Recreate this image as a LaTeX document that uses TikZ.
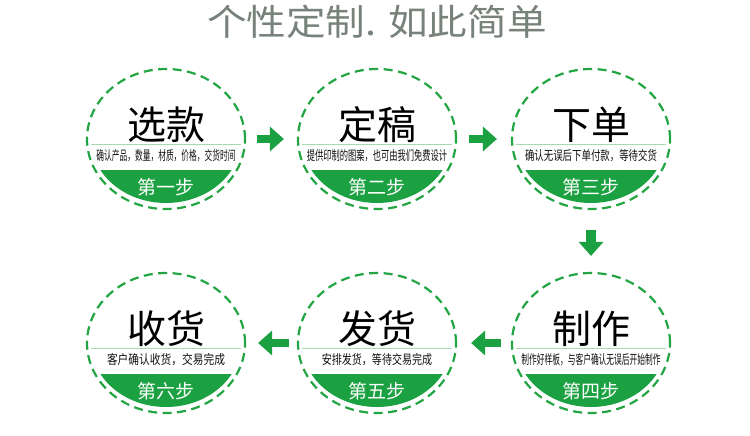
\documentclass[tikz,border=0pt]{standalone}
\usepackage{fontspec}
\setmainfont{Noto Sans CJK SC}
\usetikzlibrary{shapes.geometric,arrows.meta,calc}
\definecolor{stepgreen}{HTML}{1BA141}
\definecolor{dashgreen}{HTML}{22A542}
\definecolor{titlegray}{HTML}{76827A}
\definecolor{sepline}{HTML}{A6D9B0}
\definecolor{subgray}{HTML}{111111}
\tikzset{
  ring/.style={ellipse, draw=dashgreen, line width=2.2pt, dash pattern=on 9pt off 5.5pt,
    minimum width=158pt, minimum height=140pt, inner sep=0pt},
  maintext/.style={font=\fontsize{39}{42}\selectfont, text=black, inner sep=0pt},
  subtext/.style={font=\fontsize{13}{14}\selectfont, text=subgray, inner sep=0pt},
  steptext/.style={font=\fontsize{19}{21}\selectfont, text=white, inner sep=0pt},
  titletext/.style={font=\fontsize{36}{40}\selectfont, text=titlegray, inner sep=0pt},
  bigarrow/.style={draw=stepgreen, line width=8.5pt, -{Triangle[width=24pt,length=14pt]}},
}
\newcommand\stepcircle[7]{%
  \node[ring] (#1) at (#2,#3) {};
  \begin{scope}
    \clip (#1.center) ellipse [x radius=75pt, y radius=64pt];
    \fill[stepgreen] ($(#1.center)+(-80,31)$) rectangle ($(#1.center)+(80,70)$);
  \end{scope}
  \draw[sepline, line width=0.8pt] ($(#1.center)+(-75,5)$) -- ($(#1.center)+(75,5)$);
  \node[maintext] (#1-t) at ($(#1.center)+(0,-14)$) {#4};
  \node[subtext] (#1-s) at ($(#1.center)+(0,17)$) {\scalebox{#6}[1]{#5}};
  \node[steptext] (#1-n) at ($(#1.center)+(0,48)$) {#7};
}
\begin{document}
\begin{tikzpicture}[x=1pt,y=-1pt]
\useasboundingbox (0,0) rectangle (750,436);
\fill[white] (0,0) rectangle (750,436);
\node[titletext] (title) at (377,22) {\scalebox{1.1}[1]{个性定制. 如此简单}};
\stepcircle{c1}{166}{139}{选款}{确认产品，数量，材质，价格，交货时间}{0.595}{第一步}
\stepcircle{c2}{377}{139}{定稿}{提供印制的图案，也可由我们免费设计}{0.635}{第二步}
\stepcircle{c3}{591}{139}{下单}{确认无误后下单付款，等待交货}{0.725}{第三步}
\stepcircle{c4}{591}{343}{制作}{制作好样板，与客户确认无误后开始制作}{0.595}{第四步}
\stepcircle{c5}{377}{343}{发货}{安排发货，等待交易完成}{0.77}{第五步}
\stepcircle{c6}{166}{343}{收货}{客户确认收货，交易完成}{0.825}{第六步}
\draw[bigarrow, shorten <=11pt, shorten >=13pt] (c1) -- (c2);
\draw[bigarrow, shorten <=12pt, shorten >=14pt] (c2) -- (c3);
\draw[bigarrow, line width=10pt, shorten <=20pt, shorten >=16pt] (c3) -- (c4);
\draw[bigarrow, shorten <=10pt, shorten >=14pt] (c4) -- (c5);
\draw[bigarrow, shorten <=8pt, shorten >=12pt] (c5) -- (c6);
\end{tikzpicture}
\end{document}
